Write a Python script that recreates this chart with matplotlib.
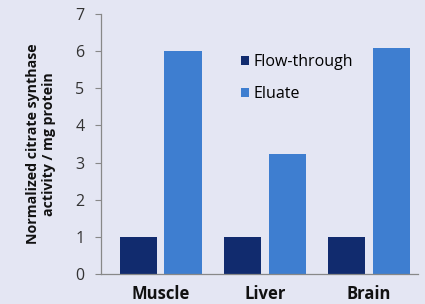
import matplotlib.pyplot as plt
import numpy as np

plt.rcParams['font.family'] = ['Open Sans', 'DejaVu Sans']

tissues = ['Muscle', 'Liver', 'Brain']
flow_through = [1.0, 1.0, 1.0]
eluate = [6.01, 3.23, 6.08]

bg = '#e4e6f3'
fig = plt.figure(figsize=(4.25, 3.04), dpi=100, facecolor=bg)
ax = fig.add_axes([0.2376, 0.0987, 0.746, 0.855], facecolor=bg)

x = np.arange(len(tissues))
w = 0.36
ax.bar(x - 0.215, flow_through, w, color='#112b6e', label='Flow-through')
ax.bar(x + 0.215, eluate, w, color='#3e7ed0', label='Eluate')

ax.set_xlim(-0.575, 2.47)
ax.set_ylim(0, 7)
ax.set_yticks(range(8))
ax.set_xticks(x)
ax.set_xticklabels(tissues, fontsize=12, fontweight='bold', color='#111111')
ax.tick_params(axis='x', length=0, pad=8)
ax.tick_params(axis='y', direction='out', length=4, color='#888888', labelsize=11.5,
               labelcolor='#333333', pad=8)

for s in ['top', 'right']:
    ax.spines[s].set_visible(False)
for s in ['left', 'bottom']:
    ax.spines[s].set_color('#888888')
    ax.spines[s].set_linewidth(0.9)

ax.set_ylabel('Normalized citrate synthase\nactivity / mg protein', fontsize=10.2,
              fontweight='bold', labelpad=14, color='#111111')

ax.legend(loc='upper left', bbox_to_anchor=(0.395, 0.9), frameon=False,
          handlelength=0.5, handleheight=0.5, handletextpad=0.3,
          labelspacing=1.0, fontsize=11.5)

fig.savefig('out.png', dpi=100, facecolor=bg)
